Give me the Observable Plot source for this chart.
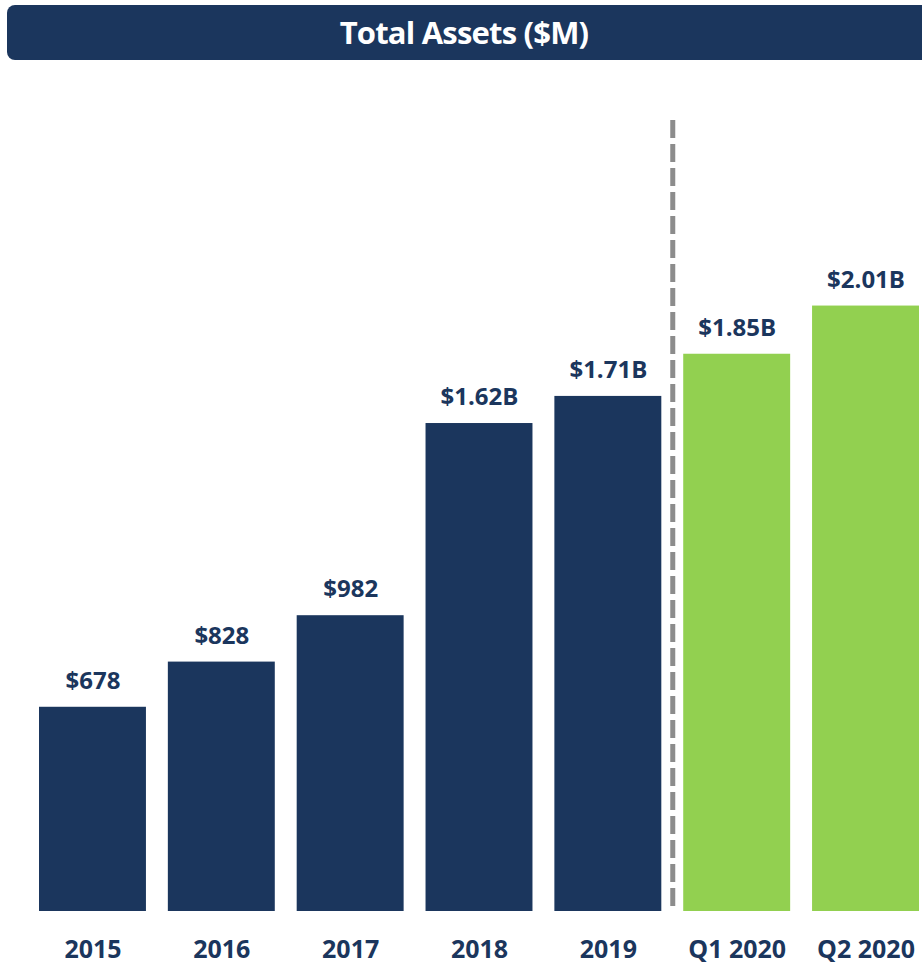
<!DOCTYPE html>
<html>
<head>
<meta charset="utf-8">
<script src="https://cdn.jsdelivr.net/npm/d3@7"></script>
<script src="https://cdn.jsdelivr.net/npm/@observablehq/plot@0.6"></script>
<style>
  html, body { margin: 0; padding: 0; background: #fff; width: 922px; height: 964px; overflow: hidden; }
  #title {
    position: absolute; left: 7px; top: 5px; width: 925px; height: 55px;
    background: #1b365d; border-radius: 8px;
    color: #fff; font-family: "Open Sans", sans-serif; font-weight: 700;
    font-size: 31px; letter-spacing: -0.8px; line-height: 55px;
    box-sizing: border-box; padding-right: 11px; text-align: center;
  }
  #chart { position: absolute; left: 0; top: 60px; }
</style>
</head>
<body>
<div id="title">Total Assets ($M)</div>
<div id="chart"></div>
<script>
const periods = ["2015", "2016", "2017", "2018", "2019", "Q1 2020", "Q2 2020"];
const values = [678, 828, 982, 1620, 1710, 1850, 2010];
const valueLabels = ["$678", "$828", "$982", "$1.62B", "$1.71B", "$1.85B", "$2.01B"];
const kinds = ["annual", "annual", "annual", "annual", "annual", "quarter", "quarter"];
const dividerBefore = "Q1 2020";
const yTop = 2626;

const data = periods.map((p, i) => ({period: p, value: values[i], label: valueLabels[i], kind: kinds[i]}));

const W = 922, H = 904, mL = 39, mR = 3, padIn = 0.17;
const step = (W - mL - mR) / (periods.length - padIn);

const chart = Plot.plot({
  width: W,
  height: H,
  marginLeft: mL,
  marginRight: mR,
  marginTop: 60,
  marginBottom: 53,
  style: {fontFamily: "'Open Sans', sans-serif", background: "#fff", overflow: "visible"},
  x: {domain: periods, paddingInner: padIn, paddingOuter: 0, round: false, axis: null},
  y: {domain: [0, yTop], axis: null},
  color: {domain: ["annual", "quarter"], range: ["#1b365d", "#92d050"]},
  marks: [
    Plot.barY(data, {x: "period", y: "value", fill: "kind"}),
    Plot.ruleX([dividerBefore], {x: d => d, y1: yTop, y2: 0, dx: -step / 2, stroke: "#8c8c8c", strokeWidth: 5, strokeDasharray: "18,6"}),
    Plot.text(data, {x: "period", y: "value", text: "label", dy: -26, fill: "#1b365d", fontSize: 24, fontWeight: 700}),
    Plot.text(data, {x: "period", y: 0, text: "period", dy: 38, fill: "#1b365d", fontSize: 25, fontWeight: 700})
  ]
});
document.getElementById("chart").appendChild(chart);
</script>
</body>
</html>
